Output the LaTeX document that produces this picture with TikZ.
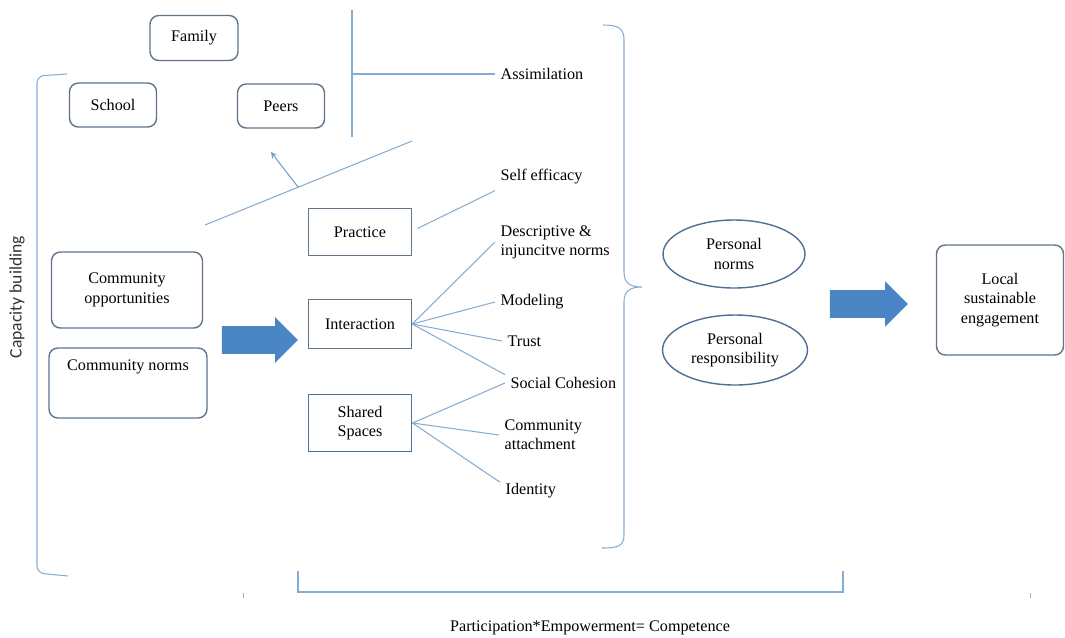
\documentclass[tikz,border=0pt]{standalone}
\usepackage{fontspec}
\setmainfont{Liberation Serif}
\newfontfamily\sidefont{Carlito}
\usepackage{tikz}
\usetikzlibrary{shapes.geometric, shapes.arrows, arrows, positioning, calc}
\definecolor{linkblue}{RGB}{135,172,210}
\definecolor{boxgray}{RGB}{95,115,135}
\definecolor{arrowblue}{RGB}{74,134,198}
\definecolor{ovalblue}{RGB}{80,110,150}
\definecolor{tickgray}{RGB}{170,175,180}

\begin{document}
\begin{tikzpicture}[x=0.02cm, y=-0.02cm, every node/.style={font=\rmfamily\fontsize{9.2}{11}\selectfont}]
\tikzstyle{roundbox} = [rectangle, rounded corners=5pt, draw=boxgray, line width=0.8pt, align=center]
\tikzstyle{sqbox} = [rectangle, draw=boxgray, line width=0.8pt, minimum width=2.06cm, align=center]
\tikzstyle{oval} = [ellipse, draw=ovalblue, line width=0.8pt, align=center, inner sep=0pt]
\tikzstyle{item} = [anchor=west, align=left, inner xsep=3pt]
\tikzstyle{blockarrow} = [single arrow, fill=arrowblue, draw=none, inner xsep=0pt, inner ysep=0.27cm, single arrow head extend=0.18cm]
\tikzstyle{link} = [linkblue, line width=0.6pt]
\useasboundingbox (0,0) rectangle (1065,637);

% social circle
\node (family) [roundbox, minimum width=1.76cm, minimum height=0.9cm] at (194,38) {Family};
\node (school) [roundbox, minimum width=1.74cm, minimum height=0.88cm] at (113,105) {School};
\node (peers) [roundbox, minimum width=1.74cm, minimum height=0.88cm] at (281,106) {Peers};
\coordinate (vtop) at (352,10);
\coordinate (vbot) at (352,137);
\draw [link] (vtop) -- (vbot);
\node (assim) [item] at (495,74) {Assimilation};
\draw [link] (vbot |- assim) -- (assim.west);

% community side
\node (capacity) [rotate=90, text=black!80, font=\sidefont\fontsize{10}{12}\selectfont] at (17,297) {Capacity building};
\draw [link, rounded corners=4pt] (67,74) -- (37,76) -- (37,573) -- (68,576);
\node (copp) [roundbox, minimum width=3.02cm, minimum height=1.52cm] at (127,290) {Community\\opportunities};
\node (cnorms) [roundbox, minimum width=3.16cm, minimum height=1.4cm] at (128,383) {};
\node (cnormstext) at (128,367) {Community norms};
\coordinate (diagA) at (205,225);
\coordinate (diagB) at (412,141);
\coordinate (diagmid) at ($(diagA)!0.45!(diagB)$);
\coordinate (uptip) at (271,152);
\draw [link] (diagA) -- (diagB);
\draw [link, ->, >=stealth, color=arrowblue!80] (diagmid) -- (uptip);
\node (arrowA) [blockarrow, minimum height=1.52cm] at (253,340) {};

% middle boxes
\node (practice) [sqbox, minimum height=0.94cm] at (360,232) {Practice};
\node (interaction) [sqbox, minimum height=0.98cm] at (360,324) {Interaction};
\node (shared) [sqbox, minimum height=1.14cm, line width=1.1pt, draw=ovalblue] at (360,423) {Shared\\Spaces};

\node (selfeff) [item] at (495,177) {Self efficacy};
\node (descnorms) [item] at (495,242) {Descriptive \&\\injuncitve norms};
\node (modeling) [item] at (495,302) {Modeling};
\node (trust) [item] at (502,341) {Trust};
\node (cohesion) [item] at (505,383) {Social Cohesion};
\node (attach) [item] at (499,435) {Community\\attachment};
\node (identity) [item] at (500,491) {Identity};

\draw [link] ([xshift=3pt, yshift=2pt]practice.east) -- (selfeff.south west);
\draw [link] (interaction.east) -- (descnorms.west);
\draw [link] (interaction.east) -- (modeling.west);
\draw [link] (interaction.east) -- (trust.west);
\draw [link] (interaction.east) -- ([yshift=-2pt]cohesion.north west);
\draw [link] (shared.east) -- (cohesion.west);
\draw [link] (shared.east) -- (attach.west);
\draw [link] (shared.east) -- ([yshift=5pt]identity.west);

% brace and outcomes
\draw [link] (603,25) .. controls (618,25) and (624,28) .. (624,40) -- (624,272)
  .. controls (624,283) and (630,287) .. (642,287)
  .. controls (630,287) and (624,291) .. (624,302) -- (624,535)
  .. controls (624,546) and (618,548) .. (602,548);
\node (pnorms) [oval, minimum width=2.84cm, minimum height=1.36cm] at (734,254) {Personal\\norms};
\node (presp) [oval, minimum width=2.9cm, minimum height=1.4cm] at (735,350) {Personal\\responsibility};
\node (arrowB) [blockarrow, minimum height=1.56cm] at (862,304) {};
\node (local) [roundbox, minimum width=2.54cm, minimum height=2.2cm] at (1000,300) {Local\\sustainable\\engagement};

% bottom bracket
\draw [link] (298,571) -- (298,592) -- (843,592) -- (843,571);
\draw [tickgray, line width=0.5pt] (243,593) -- (243,598);
\draw [tickgray, line width=0.5pt] (1030,593) -- (1030,598);
\node (formula) at (590,628) {Participation*Empowerment= Competence};

\end{tikzpicture}
\end{document}
